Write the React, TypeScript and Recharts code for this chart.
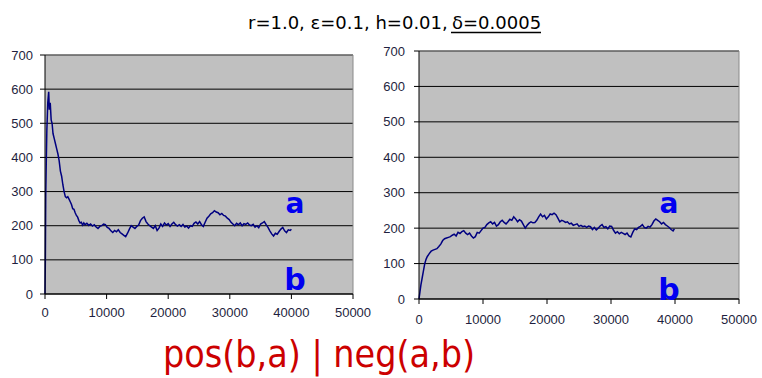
import { LineChart, Line, XAxis, YAxis, CartesianGrid, ReferenceLine } from 'recharts'

const X_TICKS = [0, 10000, 20000, 30000, 40000, 50000]
const Y_TICKS = [0, 100, 200, 300, 400, 500, 600, 700]

// pos(b,a): spike early on, then settles around 200
const posX = [
  0, 60, 120, 200, 300, 450, 600, 700, 850, 1000, 1150, 1300, 1500, 1700, 1900, 2100, 2300, 2500, 2700, 2900,
  3100, 3300, 3500, 3700, 3900, 4100, 4300, 4500, 4700, 4900, 5100, 5300, 5500, 5700, 5900, 6100, 6300, 6500,
  6800, 7100, 7400, 7700, 8000, 8300, 8600, 8900, 9200, 9500, 9800, 10100, 10400, 10700, 11000, 11300, 11600,
  11900, 12200, 12500, 12800, 13100, 13400, 13700, 14000, 14300, 14600, 14900, 15200, 15500, 15800, 16100,
  16400, 16700, 17000, 17300, 17600, 17900, 18200, 18500, 18800, 19100, 19400, 19700, 20000, 20300, 20600,
  20900, 21200, 21500, 21800, 22100, 22400, 22700, 23000, 23300, 23600, 23900, 24200, 24500, 24800, 25100,
  25400, 25700, 26000, 26300, 26600, 26900, 27200, 27500, 27800, 28100, 28400, 28700, 29000, 29300, 29600,
  29900, 30200, 30500, 30800, 31100, 31400, 31700, 32000, 32300, 32600, 32900, 33200, 33500, 33800, 34100,
  34400, 34700, 35000, 35300, 35600, 35900, 36200, 36500, 36800, 37100, 37400, 37700, 38000, 38300, 38600,
  38900, 39200, 39500, 39800, 40000,
]
const posY = [
  0, 105, 290, 380, 480, 560, 592, 540, 560, 510, 500, 470, 455, 440, 425, 410, 390, 360, 345, 320,
  300, 285, 282, 285, 278, 270, 262, 250, 248, 238, 230, 225, 215, 208, 210, 202, 208, 203,
  207, 201, 205, 199, 203, 196, 192, 198, 200, 205, 203, 195, 192, 185, 180, 186, 182,
  188, 180, 176, 172, 168, 178, 190, 200, 196, 192, 198, 202, 215, 222, 226,
  212, 205, 200, 196, 192, 200, 186, 193, 205, 198, 208, 202, 206, 198, 205,
  210, 203, 199, 203, 198, 204, 196, 199, 193, 200, 198, 207, 211, 205, 212,
  203, 198, 210, 222, 228, 235, 238, 244, 240, 238, 232, 236, 230, 228, 222,
  218, 210, 205, 200, 207, 203, 208, 200, 206, 204, 208, 202, 200, 204, 196,
  200, 194, 205, 208, 212, 203, 195, 185, 176, 170, 178, 175, 183, 190, 195,
  185, 180, 188, 186, 190,
]

// neg(a,b): climbs from 0 and settles around 200
const negX = [
  0, 150, 300, 500, 700, 900, 1100, 1300, 1600, 1900, 2200, 2500, 2800, 3100, 3400, 3700, 4000, 4300, 4600,
  4900, 5200, 5500, 5800, 6100, 6400, 6700, 7000, 7300, 7600, 7900, 8200, 8500, 8800, 9100, 9400, 9700,
  10000, 10300, 10600, 10900, 11200, 11500, 11800, 12100, 12400, 12700, 13000, 13300, 13600, 13900, 14200,
  14500, 14800, 15100, 15400, 15700, 16000, 16300, 16600, 16900, 17200, 17500, 17800, 18100, 18400, 18700,
  19000, 19300, 19600, 19900, 20200, 20500, 20800, 21100, 21400, 21700, 22000, 22300, 22600, 22900, 23200,
  23500, 23800, 24100, 24400, 24700, 25000, 25300, 25600, 25900, 26200, 26500, 26800, 27100, 27400, 27700,
  28000, 28300, 28600, 28900, 29200, 29500, 29800, 30100, 30400, 30700, 31000, 31300, 31600, 31900, 32200,
  32500, 32800, 33100, 33400, 33700, 34000, 34300, 34600, 34900, 35200, 35500, 35800, 36100, 36400, 36700,
  37000, 37300, 37600, 37900, 38200, 38500, 38800, 39100, 39400, 39700, 39900,
]
const negY = [
  0, 20, 40, 60, 80, 100, 112, 120, 128, 135, 138, 140, 142, 148, 155, 165, 170, 172, 174,
  176, 180, 183, 178, 188, 185, 190, 193, 186, 182, 186, 178, 172, 176, 188, 186, 193,
  200, 202, 210, 215, 218, 212, 216, 206, 210, 218, 222, 216, 212, 218, 225,
  222, 232, 226, 218, 224, 220, 210, 200, 208, 214, 218, 215, 216, 222, 232,
  240, 232, 236, 226, 232, 240, 238, 242, 238, 228, 218, 222, 220, 216, 218,
  212, 214, 208, 210, 212, 205, 208, 204, 206, 202, 206, 204, 196, 202, 195,
  200, 206, 210, 202, 204, 198, 206, 205, 194, 186, 190, 184, 188, 185, 182,
  186, 178, 175, 188, 198, 196, 202, 205, 210, 202, 200, 205, 203, 210, 220,
  226, 222, 218, 212, 216, 210, 206, 202, 196, 192, 198,
]

const posData = posX.map((x, i) => ({ x, y: posY[i] }))
const negData = negX.map((x, i) => ({ x, y: negY[i] }))

const tickStyle = { fill: '#1f1f40', fontSize: 13, fontFamily: '"Liberation Sans", Arial, sans-serif' }

type PanelProps = {
  data: { x: number; y: number }[]
  width: number
  height: number
  margin: { top: number; right: number; bottom: number; left: number }
  yWidth: number
  xGap: number
  yGap: number
}

function Panel({ data, width, height, margin, yWidth, xGap, yGap }: PanelProps) {
  return (
    <LineChart width={width} height={height} data={data} margin={margin}>
      <CartesianGrid vertical={false} stroke="#000" fill="#c0c0c0" fillOpacity={1} />
      <XAxis
        type="number"
        dataKey="x"
        domain={[0, 50000]}
        ticks={X_TICKS}
        height={30}
        tickSize={5}
        tickMargin={xGap}
        tick={tickStyle}
        stroke="#000"
        interval={0}
      />
      <YAxis
        type="number"
        domain={[0, 700]}
        ticks={Y_TICKS}
        width={yWidth}
        tickSize={5}
        tickMargin={yGap}
        tick={tickStyle}
        stroke="#000"
        interval={0}
      />
      <ReferenceLine y={700} stroke="#8a8a8a" />
      <ReferenceLine x={50000} stroke="#8a8a8a" />
      <Line
        type="linear"
        dataKey="y"
        stroke="#000080"
        strokeWidth={1.5}
        dot={false}
        isAnimationActive={false}
      />
    </LineChart>
  )
}

const labelFont = '"DejaVu Sans", sans-serif'

export default function App() {
  return (
    <div style={{ position: 'absolute', left: 0, top: 0, width: 762, height: 378, background: '#fff', overflow: 'hidden' }}>
      <div style={{ position: 'absolute', left: 0, top: 0 }}>
        <Panel
          data={posData}
          width={380}
          height={330}
          margin={{ top: 55, right: 27, bottom: 6, left: 0 }}
          yWidth={45}
          xGap={9}
          yGap={7}
        />
      </div>
      <div style={{ position: 'absolute', left: 380, top: 0 }}>
        <Panel
          data={negData}
          width={382}
          height={340}
          margin={{ top: 51, right: 23, bottom: 11, left: 0 }}
          yWidth={39}
          xGap={11}
          yGap={9}
        />
      </div>
      <svg width={762} height={378} style={{ position: 'absolute', left: 0, top: 0, pointerEvents: 'none' }}>
        <text x={248} y={29} fontFamily={labelFont} fontSize={18} fill="#000">
          r=1.0, ε=0.1, h=0.01,
        </text>
        <text x={452} y={29} fontFamily={labelFont} fontSize={18} fill="#000">
          δ=0.0005
        </text>
        <line x1={451} x2={541} y1={32.5} y2={32.5} stroke="#000" strokeWidth={1.5} />

        <text x={295} y={213} textAnchor="middle" fontFamily={labelFont} fontWeight="bold" fontSize={28} fill="#0000f0">a</text>
        <text x={295} y={290} textAnchor="middle" fontFamily={labelFont} fontWeight="bold" fontSize={30} fill="#0000f0">b</text>
        <text x={669} y={213} textAnchor="middle" fontFamily={labelFont} fontWeight="bold" fontSize={28} fill="#0000f0">a</text>
        <text x={669} y={300} textAnchor="middle" fontFamily={labelFont} fontWeight="bold" fontSize={30} fill="#0000f0">b</text>

        <text x={163} y={367} fontFamily={labelFont} fontSize={38} fill="#cc0000" textLength={312} lengthAdjust="spacingAndGlyphs">
          pos(b,a) | neg(a,b)
        </text>
      </svg>
    </div>
  )
}
